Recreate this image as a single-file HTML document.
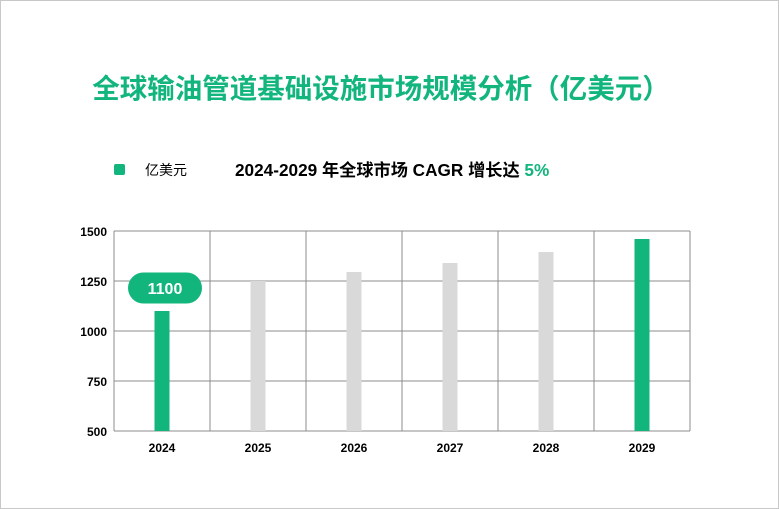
<!DOCTYPE html>
<html><head><meta charset="utf-8"><style>
body{margin:0;background:#fff;}
#wrap{position:relative;width:777px;height:507px;border:1px solid #c8c8c8;overflow:hidden;font-family:"Liberation Sans","Noto Sans CJK SC",sans-serif;}
</style></head><body>
<div id="wrap">
<svg id="chart" width="777" height="507" style="position:absolute;left:0;top:0"></svg>
</div>
<script>
const categories=["2024","2025","2026","2027","2028","2029"];
const values=[1100,1250,1295,1340,1395,1460];
const yTicks=[500,750,1000,1250,1500];
const highlight=[true,false,false,false,false,true];
const NS="http://www.w3.org/2000/svg";
const svg=document.getElementById('chart');
function el(t,a,txt){const e=document.createElementNS(NS,t);for(const k in a)e.setAttribute(k,a[k]);if(txt!==undefined)e.textContent=txt;svg.appendChild(e);return e;}
const L=113,R=689,T=230,B=430,yMin=500,yMax=1500;
const y=v=>B-(v-yMin)/(yMax-yMin)*(B-T);
const bw=(R-L)/categories.length;
const x=i=>L+bw*(i+0.5);
let t=el('text',{x:380,y:97,'text-anchor':'middle','font-size':27.5,'font-weight':'bold',fill:'#12b57c'},'全球输油管道基础设施市场规模分析（亿美元）');

let lg=el('rect',{x:113,y:163,width:11,height:11,rx:2,fill:'#12b57c'});

let lt=el('text',{x:144,y:174,'font-size':14,fill:'#000'},'亿美元');

let st=el('text',{x:234,y:175,'font-size':17.2,'font-weight':'bold',fill:'#000'});

st.innerHTML='2024-2029 年全球市场 CAGR 增长达 <tspan fill="#12b57c">5%</tspan>';
yTicks.forEach(v=>{
 const g=el('line',{x1:L,x2:R,y1:y(v),y2:y(v),stroke:'#8c8c8c','stroke-width':1});
 
 const lb=el('text',{x:L-7,y:y(v)+5,'text-anchor':'end','font-size':12,'font-weight':'bold',fill:'#000'},v);
 
});
for(let i=0;i<=categories.length;i++){
 const v=el('line',{x1:L+bw*i,x2:L+bw*i,y1:T,y2:B,stroke:'#8c8c8c','stroke-width':1});
 
}
categories.forEach((c,i)=>{
 const b=el('rect',{x:x(i)-7.5,y:y(values[i]),width:15,height:B-y(values[i]),fill:highlight[i]?'#12b57c':'#d9d9d9'});
 
 const lb=el('text',{x:x(i),y:451,'text-anchor':'middle','font-size':12,'font-weight':'bold',fill:'#000'},c);
 
});
const px=x(0)+3,py=y(values[0])-23;
const pill=el('rect',{x:px-37,y:py-15.5,width:74,height:31,rx:15.5,fill:'#12b57c'});

const pt=el('text',{x:px,y:py+6,'text-anchor':'middle','font-size':16,'font-weight':'bold',fill:'#fff'},values[0]);

</script>
</body></html>
